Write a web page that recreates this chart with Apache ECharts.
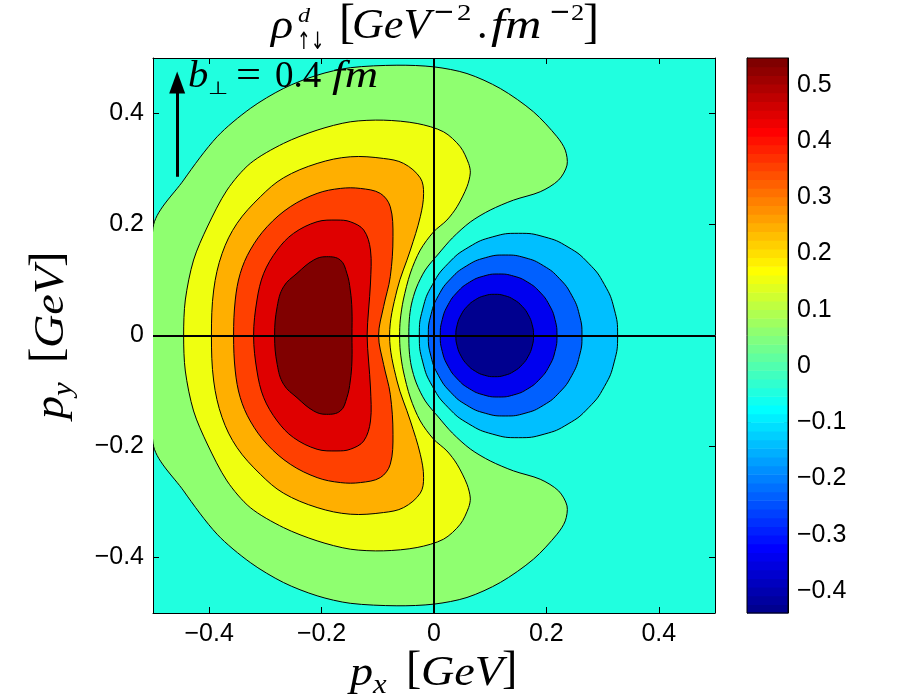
<!DOCTYPE html>
<html><head><meta charset="utf-8">
<script src="https://cdn.jsdelivr.net/npm/echarts@6/dist/echarts.min.js"></script>
<style>html,body{margin:0;padding:0;background:#fff}#c{width:909px;height:700px}</style>
</head><body><div id="c"></div>
<script>
// ---------- data (data units: GeV) ----------
const xTicks = [-0.4, -0.2, 0, 0.2, 0.4];
const yTicks = [-0.4, -0.2, 0, 0.2, 0.4];
const cbTicks = [-0.4, -0.3, -0.2, -0.1, 0, 0.1, 0.2, 0.3, 0.4, 0.5];
const cbRange = [-0.439, 0.5475];

// contour boundaries (outermost first), [px, py]
const contourGreen = [
 [-0.5,0.194],[-0.4455,0.280],[-0.386,0.358],[-0.327,0.409],[-0.268,0.445],[-0.208,0.469],[-0.149,0.4825],[-0.066,0.487],[0.0,0.484],[0.0587,0.472],[0.118,0.445],[0.177,0.403],[0.219,0.358],[0.2336,0.334],[0.2367,0.307],[0.2217,0.280],[0.189,0.259],[0.1416,0.244],[0.100,0.226],[0.0646,0.2045],[0.0326,0.1757],[0.0077,0.1468],[-0.0155,0.118],[-0.0315,0.0856],[-0.0404,0.055],[-0.044,0.028],[-0.0448,0],
 [-0.044,-0.028],[-0.0404,-0.055],[-0.0315,-0.0856],[-0.0155,-0.118],[0.0077,-0.1468],[0.0326,-0.1757],[0.0646,-0.2045],[0.100,-0.226],[0.1416,-0.244],[0.189,-0.259],[0.2217,-0.280],[0.2367,-0.307],[0.2336,-0.334],[0.219,-0.358],[0.177,-0.403],[0.118,-0.445],[0.0587,-0.472],[0.0,-0.484],[-0.066,-0.487],[-0.149,-0.4825],[-0.208,-0.469],[-0.268,-0.445],[-0.327,-0.409],[-0.386,-0.358],[-0.4455,-0.280],[-0.5,-0.194]
];
const contourYellow = [
 [-0.4455,0],[-0.4425,0.064],[-0.4278,0.136],[-0.4034,0.1955],[-0.3683,0.262],[-0.327,0.310],[-0.268,0.346],[-0.208,0.370],[-0.149,0.385],[-0.0897,0.388],[-0.030,0.382],[0.017,0.367],[0.0468,0.340],[0.0616,0.310],[0.0646,0.293],[0.0587,0.268],[0.041,0.232],[0.023,0.208],[-0.001,0.1865],[-0.0244,0.154],[-0.042,0.1126],[-0.0546,0.064],[-0.060,0.028],[-0.0612,0],
 [-0.060,-0.028],[-0.0546,-0.064],[-0.042,-0.1126],[-0.0244,-0.154],[-0.001,-0.1865],[0.023,-0.208],[0.041,-0.232],[0.0587,-0.268],[0.0646,-0.293],[0.0616,-0.310],[0.0468,-0.340],[0.017,-0.367],[-0.030,-0.382],[-0.0897,-0.388],[-0.149,-0.385],[-0.208,-0.370],[-0.268,-0.346],[-0.327,-0.310],[-0.3683,-0.262],[-0.4034,-0.1955],[-0.4278,-0.136],[-0.4425,-0.064]
];
const contourOrange = [
 [-0.396,0],[-0.392,0.082],[-0.377,0.148],[-0.3505,0.202],[-0.309,0.250],[-0.268,0.284],[-0.208,0.310],[-0.149,0.322],[-0.0897,0.319],[-0.054,0.310],[-0.0244,0.284],[-0.0185,0.256],[-0.0244,0.214],[-0.042,0.154],[-0.0658,0.082],[-0.079,0],
 [-0.0658,-0.082],[-0.042,-0.154],[-0.0244,-0.214],[-0.0185,-0.256],[-0.0244,-0.284],[-0.054,-0.310],[-0.0897,-0.319],[-0.149,-0.322],[-0.208,-0.310],[-0.268,-0.284],[-0.309,-0.250],[-0.3505,-0.202],[-0.377,-0.148],[-0.392,-0.082]
];
const contourRedOrange = [
 [-0.3566,0],[-0.3536,0.064],[-0.3447,0.112],[-0.327,0.154],[-0.297,0.196],[-0.2557,0.232],[-0.208,0.256],[-0.1667,0.265],[-0.131,0.265],[-0.0955,0.256],[-0.0778,0.232],[-0.073,0.178],[-0.0778,0.106],[-0.0897,0.052],[-0.0986,0],
 [-0.0897,-0.052],[-0.0778,-0.106],[-0.073,-0.178],[-0.0778,-0.232],[-0.0955,-0.256],[-0.131,-0.265],[-0.1667,-0.265],[-0.208,-0.256],[-0.2557,-0.232],[-0.297,-0.196],[-0.327,-0.154],[-0.3447,-0.112],[-0.3536,-0.064]
];
const contourRed = [
 [-0.321,0],[-0.315,0.064],[-0.303,0.112],[-0.279,0.154],[-0.250,0.184],[-0.208,0.205],[-0.1726,0.208],[-0.149,0.205],[-0.125,0.190],[-0.113,0.154],[-0.113,0.0946],[-0.1164,0.046],[-0.119,0],
 [-0.1164,-0.046],[-0.113,-0.0946],[-0.113,-0.154],[-0.125,-0.190],[-0.149,-0.205],[-0.1726,-0.208],[-0.208,-0.205],[-0.250,-0.184],[-0.279,-0.154],[-0.303,-0.112],[-0.315,-0.064]
];
const contourDarkRed = [
 [-0.2836,0],[-0.279,0.052],[-0.2676,0.088],[-0.2438,0.112],[-0.214,0.136],[-0.1916,0.142],[-0.1667,0.136],[-0.155,0.112],[-0.149,0.082],[-0.146,0.046],[-0.146,0],
 [-0.146,-0.046],[-0.149,-0.082],[-0.155,-0.112],[-0.1667,-0.136],[-0.1916,-0.142],[-0.214,-0.136],[-0.2438,-0.112],[-0.2676,-0.088],[-0.279,-0.052]
];
const contourLightBlue = [
 [0.3267,0],[0.3207,0.0476],[0.3031,0.0921],[0.2750,0.1302],[0.2385,0.1594],[0.1960,0.1778],[0.1503,0.1841],[0.1046,0.1778],[0.0621,0.1594],[0.0256,0.1302],[-0.0025,0.0921],[-0.0201,0.0476],[-0.0261,0],
 [-0.0201,-0.0476],[-0.0025,-0.0921],[0.0256,-0.1302],[0.0621,-0.1594],[0.1046,-0.1778],[0.1503,-0.1841],[0.1960,-0.1778],[0.2385,-0.1594],[0.2750,-0.1302],[0.3031,-0.0921],[0.3207,-0.0476]
];
const contourMidBlue = [
 [0.2633,0],[0.2586,0.0375],[0.2450,0.0725],[0.2233,0.1025],[0.1950,0.1256],[0.1620,0.1401],[0.1266,0.145],[0.0912,0.1401],[0.0582,0.1256],[0.0299,0.1025],[0.0082,0.0725],[-0.0054,0.0375],[-0.0101,0],
 [-0.0054,-0.0375],[0.0082,-0.0725],[0.0299,-0.1025],[0.0582,-0.1256],[0.0912,-0.1401],[0.1266,-0.145],[0.1620,-0.1401],[0.1950,-0.1256],[0.2233,-0.1025],[0.2450,-0.0725],[0.2586,-0.0375]
];
const contourBlue = [
 [0.2188,0],[0.2153,0.0287],[0.2049,0.0554],[0.1884,0.0783],[0.1669,0.0960],[0.1419,0.1070],[0.115,0.1108],[0.0881,0.1070],[0.0631,0.0960],[0.0416,0.0783],[0.0251,0.0554],[0.0147,0.0287],[0.0112,0],
 [0.0147,-0.0287],[0.0251,-0.0554],[0.0416,-0.0783],[0.0631,-0.0960],[0.0881,-0.1070],[0.115,-0.1108],[0.1419,-0.1070],[0.1669,-0.0960],[0.1884,-0.0783],[0.2049,-0.0554],[0.2153,-0.0287]
];
const contourDarkBlue = [
 [0.1771,0],[0.1747,0.0192],[0.1678,0.0371],[0.1569,0.0525],[0.1426,0.0643],[0.1259,0.0717],[0.108,0.0742],[0.0901,0.0717],[0.0734,0.0643],[0.0591,0.0525],[0.0482,0.0371],[0.0413,0.0192],[0.0389,0],
 [0.0413,-0.0192],[0.0482,-0.0371],[0.0591,-0.0525],[0.0734,-0.0643],[0.0901,-0.0717],[0.108,-0.0742],[0.1259,-0.0717],[0.1426,-0.0643],[0.1569,-0.0525],[0.1678,-0.0371],[0.1747,-0.0192]
];
const bPerpArrow = [[-0.457, 0.286], [-0.457, 0.456]];   // arrow start, arrow-head centre

// ---------- styles ----------
const bgColor = '#20FFDF';
const fills = ['#8FFF70','#EFFF10','#FFAF00','#FF4000','#DF0000','#800000','#00BFFF','#0060FF','#0000EF','#00008F'];
const smoothing = [0.3, 0.3, 0.35, 0.35, 0.35, 0.4, 0.5, 0.5, 0.5, 0.5];
const regions = [contourGreen, contourYellow, contourOrange, contourRedOrange, contourRed, contourDarkRed,
                 contourLightBlue, contourMidBlue, contourBlue, contourDarkBlue];

function jet(row) { // MATLAB jet(64), row 1..64
  const x = row / 64;
  const c = v => Math.round(255 * Math.max(0, Math.min(1, v)));
  return 'rgb(' + c(Math.min(4*x-1.5, -4*x+4.5)) + ',' + c(Math.min(4*x-0.5, -4*x+3.5)) + ',' + c(Math.min(4*x+0.5, -4*x+2.5)) + ')';
}
const cbRows = Array.from({length: 64}, (_, i) => i + 1);

const fmt = v => (v < 0 ? '\u2212' : '') + String(Math.abs(Math.round(v * 10) / 10));
const tickFont = {fontFamily: 'Liberation Sans', fontSize: 25, color: '#000'};
const SERIF = '"Liberation Serif"';

function T(x, y, text, font, sx) {
  return {type: 'text', x: x, y: y, scaleX: sx || 1, z: 60,
          style: {text: text, font: font, fill: '#000', align: 'left', verticalAlign: 'middle'}};
}
const I = s => 'italic ' + s + 'px ' + SERIF;
const R = s => s + 'px ' + SERIF;

function labelPieces(sub) {
  return [
    T(-83, -2, 'p', I(42), 1.1),
    T(-60, 9.5, sub, I(28), 1.1),
    T(-27, -5, '[', R(46)),
    T(-12, -2, 'GeV', I(42), 1.1),
    T(69, -5, ']', R(46))
  ];
}

const chart = echarts.init(document.getElementById('c'), null, {renderer: 'canvas'});
const axisCommon = (pos, ticks, showLabel, gridIndex) => ({
  type: 'value', position: pos, gridIndex: gridIndex || 0,
  axisLine: {show: true, onZero: false, lineStyle: {color: '#000', width: 1}},
  axisTick: {show: true, inside: true, length: 6, customValues: ticks, lineStyle: {color: '#000'}},
  axisLabel: {show: showLabel, customValues: ticks, formatter: fmt, margin: 9, ...tickFont},
  splitLine: {show: false}
});
const cbTick = {show: true, inside: true, length: 4, customValues: cbTicks, lineStyle: {color: '#000'}};

chart.setOption({
  animation: false,
  grid: [
    {left: 153, top: 58, width: 562, height: 555, show: true, backgroundColor: bgColor, borderWidth: 0},
    {left: 747, top: 58, width: 41, height: 555, show: false}
  ],
  xAxis: [
    Object.assign(axisCommon('bottom', xTicks, true), {min: -0.5, max: 0.5}),
    Object.assign(axisCommon('top', xTicks, false), {min: -0.5, max: 0.5}),
    {type: 'value', gridIndex: 1, min: 0, max: 1, show: false}
  ],
  yAxis: [
    Object.assign(axisCommon('left', yTicks, true), {min: -0.5, max: 0.5}),
    Object.assign(axisCommon('right', yTicks, false), {min: -0.5, max: 0.5}),
    Object.assign(axisCommon('right', cbTicks, true, 1), {min: cbRange[0], max: cbRange[1], axisTick: cbTick}),
    Object.assign(axisCommon('left', cbTicks, false, 1), {min: cbRange[0], max: cbRange[1], axisTick: cbTick})
  ],
  series: [
    {
      type: 'custom', xAxisIndex: 0, yAxisIndex: 0, clip: true, silent: true, z: 2,
      data: regions.map(() => [0, 0]),
      renderItem: (params, api) => {
        const i = params.dataIndex;
        const pts = regions[i].map(p => api.coord(p));
        return {type: 'polygon', shape: {points: pts, smooth: smoothing[i]},
                style: {fill: fills[i], stroke: '#000', lineWidth: 1}};
      }
    },
    {
      type: 'line', xAxisIndex: 0, yAxisIndex: 0, data: [], z: 5,
      markLine: {silent: true, symbol: ['none', 'none'], label: {show: false},
        lineStyle: {color: '#000', width: 2, type: 'solid'},
        data: [{xAxis: 0}, {yAxis: 0}]}
    },
    {
      type: 'line', xAxisIndex: 0, yAxisIndex: 0, data: [], z: 6,
      markLine: {silent: true, label: {show: false},
        lineStyle: {color: '#000', width: 3, type: 'solid'},
        itemStyle: {color: '#000'},
        data: [[{coord: bPerpArrow[0], symbol: 'none'},
                {coord: bPerpArrow[1], symbol: 'triangle', symbolSize: [16, 22]}]]}
    },
    {
      type: 'custom', xAxisIndex: 2, yAxisIndex: 2, silent: true,
      data: cbRows.map(r => [0, r]),
      renderItem: (params, api) => {
        const r = cbRows[params.dataIndex];
        const step = (cbRange[1] - cbRange[0]) / 64;
        const p1 = api.coord([0, cbRange[0] + r * step]);
        const p2 = api.coord([1, cbRange[0] + (r - 1) * step]);
        return {type: 'rect', shape: {x: p1[0], y: p1[1], width: p2[0] - p1[0], height: p2[1] - p1[1] + 0.6},
                style: {fill: jet(r)}};
      }
    }
  ],
  graphic: [
    {type: 'rect', shape: {x: 747, y: 58, width: 41, height: 555}, style: {fill: 'none', stroke: '#000', lineWidth: 1}, z: 100},
    // title
    T(271, 27.3, 'ρ', I(42), 1.1),
    T(298, 15.9, 'd', I(22), 1.1),
    T(297, 43, '↑↓', '24px "DejaVu Sans"', 0.68),
    T(339, 24, '[', R(48)),
    T(352, 27.3, 'GeV', I(42), 1.05),
    T(433, 13, '\u2212', '26px "DejaVu Sans"'),
    T(457, 13.5, '2', R(24), 1.2),
    T(477, 27.3, '.', R(42)),
    T(491, 27.3, 'fm', I(42), 1.2),
    T(549, 13, '\u2212', '26px "DejaVu Sans"'),
    T(571, 13.5, '2', R(24), 1.1),
    T(583, 24, ']', R(48)),
    // annotation b_perp = 0.4 fm
    T(188, 77.5, 'b', I(37), 1.1),
    T(208, 89, '⊥', '18px "DejaVu Sans"', 1.3),
    T(236, 77.5, '=', R(37), 1.2),
    T(275, 77.5, '0.4', R(37)),
    T(332, 77.5, 'fm', I(37), 1.25),
    // x-axis name
    {type: 'group', x: 433, y: 676, children: labelPieces('x')},
    // y-axis name (rotated)
    {type: 'group', x: 54, y: 336, rotation: Math.PI / 2, children: labelPieces('y')}
  ]
});
</script>
</body></html>
